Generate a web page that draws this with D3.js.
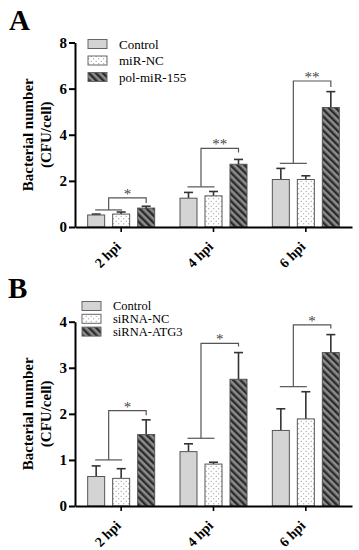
<!DOCTYPE html>
<html>
<head>
<meta charset="utf-8">
<script src="https://cdn.jsdelivr.net/npm/d3@7"></script>
<style>
  body { margin: 0; background: #fff; }
  svg, svg text { font-family: "Liberation Serif", "Times New Roman", "DejaVu Serif", serif; }
</style>
</head>
<body>
<svg id="chart" width="359" height="550"></svg>
<script>
const FONT = "'Liberation Serif', 'Times New Roman', 'DejaVu Serif', serif";

// kategorije (čas po okužbi)
const groups = ["2 hpi", "4 hpi", "6 hpi"];

// Panel A
const seriesA = ["Control", "miR-NC", "pol-miR-155"];
const controlA = [0.52, 1.25, 2.06];
const controlAErr = [0.04, 0.25, 0.48];
const ncA = [0.56, 1.35, 2.06];
const ncAErr = [0.09, 0.19, 0.16];
const polA = [0.82, 2.72, 5.18];
const polAErr = [0.08, 0.21, 0.69];
const starsA = ["*", "**", "**"];
const bracketLowA = [0.74, 1.74, 2.76];
const bracketTopA = [1.26, 3.41, 6.33];
const bracketEndA = [1.04, 3.23, 6.07];
const ticksA = [0, 2, 4, 6, 8];

// Panel B
const seriesB = ["Control", "siRNA-NC", "siRNA-ATG3"];
const controlB = [0.64, 1.18, 1.64];
const controlBErr = [0.23, 0.17, 0.47];
const ncB = [0.60, 0.91, 1.89];
const ncBErr = [0.21, 0.04, 0.59];
const atgB = [1.55, 2.75, 3.33];
const atgBErr = [0.32, 0.58, 0.39];
const starsB = ["*", "*", "*"];
const bracketLowB = [1.0, 1.47, 2.59];
const bracketTopB = [2.07, 3.53, 3.93];
const bracketEndB = [1.97, 3.46, 3.85];
const ticksB = [0, 1, 2, 3, 4];

const svg = d3.select("#chart");

// vzorci za polnila
const defs = svg.append("defs");
const dots = defs.append("pattern")
  .attr("id", "dots").attr("patternUnits", "userSpaceOnUse")
  .attr("width", 5).attr("height", 5);
dots.append("rect").attr("width", 5).attr("height", 5).attr("fill", "#fff");
dots.append("circle").attr("cx", 1.2).attr("cy", 1.2).attr("r", 0.55).attr("fill", "#777");
dots.append("circle").attr("cx", 3.7).attr("cy", 3.7).attr("r", 0.55).attr("fill", "#777");

const stripes = defs.append("pattern")
  .attr("id", "stripes").attr("patternUnits", "userSpaceOnUse")
  .attr("width", 5).attr("height", 5)
  .attr("patternTransform", "rotate(-45)");
stripes.append("rect").attr("width", 5).attr("height", 5).attr("fill", "#8c8c8c");
stripes.append("rect").attr("width", 2.4).attr("height", 5).attr("fill", "#2b2b2b");

const fills = ["#d4d4d4", "url(#dots)", "url(#stripes)"];

function drawPanel(p) {
  const g = svg.append("g").attr("font-family", FONT);

  const x = d3.scaleBand().domain(groups).range([75, 352]);
  const xSub = d3.scaleBand().domain(p.series).range([0, 75])
    .paddingInner(0.32).paddingOuter(0.16);
  const off = (x.bandwidth() - 75) / 2;
  const y = d3.scaleLinear().domain([0, p.ticks[p.ticks.length - 1]]).range([p.y0, p.y1]);

  const barCx = (grp, s) => x(grp) + off + xSub(s) + xSub.bandwidth() / 2;

  // stolpci z napakami
  p.series.forEach((s, si) => {
    const vals = p.values[si];
    const errs = p.errors[si];
    groups.forEach((grp, gi) => {
      const cx = barCx(grp, s);
      const yt = y(vals[gi] + errs[gi]);
      g.append("line")
        .attr("x1", cx).attr("x2", cx)
        .attr("y1", y(vals[gi])).attr("y2", yt)
        .attr("stroke", "#333").attr("stroke-width", 1.6);
      g.append("line")
        .attr("x1", cx - 4.5).attr("x2", cx + 4.5)
        .attr("y1", yt).attr("y2", yt)
        .attr("stroke", "#333").attr("stroke-width", 1.6);
      g.append("rect")
        .attr("x", x(grp) + off + xSub(s))
        .attr("y", y(vals[gi]))
        .attr("width", xSub.bandwidth())
        .attr("height", y(0) - y(vals[gi]))
        .attr("fill", fills[si])
        .attr("stroke", "#555").attr("stroke-width", 1);
    });
  });

  // oklepaji za značilnost
  groups.forEach((grp, gi) => {
    const c0 = barCx(grp, p.series[0]);
    const c1 = barCx(grp, p.series[1]);
    const c2 = barCx(grp, p.series[2]);
    const mid = (c0 + c1) / 2;
    g.append("line")
      .attr("x1", c0 - 1).attr("x2", c1 + 1)
      .attr("y1", y(p.low[gi])).attr("y2", y(p.low[gi]))
      .attr("stroke", "#555").attr("stroke-width", 1.2);
    g.append("path")
      .attr("d", `M${mid},${y(p.low[gi])} V${y(p.top[gi])} H${c2} V${y(p.end[gi])}`)
      .attr("fill", "none").attr("stroke", "#555").attr("stroke-width", 1.2);
    g.append("text")
      .attr("x", (mid + c2) / 2).attr("y", y(p.top[gi]) + 1)
      .attr("text-anchor", "middle")
      .attr("font-size", "15px").attr("fill", "#444")
      .text(p.stars[gi]);
  });

  // os y
  const yAxis = g.append("g").attr("transform", "translate(75,0)")
    .call(d3.axisLeft(y).tickValues(p.ticks).tickFormat(d3.format("d"))
      .tickSize(6).tickSizeOuter(0).tickPadding(2));
  yAxis.attr("font-family", FONT);
  yAxis.select(".domain").attr("stroke-width", 2);
  yAxis.selectAll(".tick line").attr("stroke-width", 2);
  yAxis.selectAll("text").attr("font-size", "15px").attr("font-weight", "bold").attr("fill", "#000");

  // os x
  const xAxis = g.append("g").attr("transform", `translate(0,${p.y0})`)
    .call(d3.axisBottom(x).tickSize(5).tickSizeOuter(0).tickFormat(""));
  xAxis.select(".domain").attr("stroke-width", 2);
  xAxis.selectAll(".tick line").attr("stroke-width", 1.6);

  // zasukane oznake kategorij
  groups.forEach(grp => {
    const cx = x(grp) + x.bandwidth() / 2;
    g.append("text")
      .attr("transform", `translate(${cx - 3},${p.y0 + 17}) rotate(-45)`)
      .attr("text-anchor", "end")
      .attr("dy", "0.35em")
      .attr("font-size", "14px").attr("font-weight", "bold")
      .text(grp);
  });

  // naslov osi y
  const my = (p.y0 + p.y1) / 2;
  g.append("text")
    .attr("transform", `translate(33,${my}) rotate(-90)`)
    .attr("text-anchor", "middle").attr("font-size", "15px").attr("font-weight", "bold")
    .text("Bacterial number");
  g.append("text")
    .attr("transform", `translate(51,${my}) rotate(-90)`)
    .attr("text-anchor", "middle").attr("font-size", "15px").attr("font-weight", "bold")
    .text("(CFU/cell)");

  // oznaka panela
  g.append("text")
    .attr("x", p.lx).attr("y", p.ly)
    .attr("font-size", "29px").attr("font-weight", "bold")
    .text(p.label);

  // legenda
  p.series.forEach((s, si) => {
    const ly = p.legY + si * p.legStep;
    g.append("rect")
      .attr("x", p.legX).attr("y", ly - 4.5)
      .attr("width", 19).attr("height", 9)
      .attr("fill", fills[si]).attr("stroke", "#666").attr("stroke-width", 1);
    g.append("text")
      .attr("x", p.legX + 31).attr("y", ly)
      .attr("dy", "0.35em").attr("font-size", p.legFont)
      .text(s);
  });
}

drawPanel({
  series: seriesA,
  values: [controlA, ncA, polA],
  errors: [controlAErr, ncAErr, polAErr],
  stars: starsA, low: bracketLowA, top: bracketTopA, end: bracketEndA,
  ticks: ticksA, y0: 227, y1: 42.5,
  label: "A", lx: 9, ly: 30,
  legX: 88, legY: 44, legStep: 16.5, legFont: "13px"
});

drawPanel({
  series: seriesB,
  values: [controlB, ncB, atgB],
  errors: [controlBErr, ncBErr, atgBErr],
  stars: starsB, low: bracketLowB, top: bracketTopB, end: bracketEndB,
  ticks: ticksB, y0: 506, y1: 321.7,
  label: "B", lx: 8, ly: 298,
  legX: 82, legY: 306, legStep: 12.8, legFont: "12.5px"
});
</script>
</body>
</html>
